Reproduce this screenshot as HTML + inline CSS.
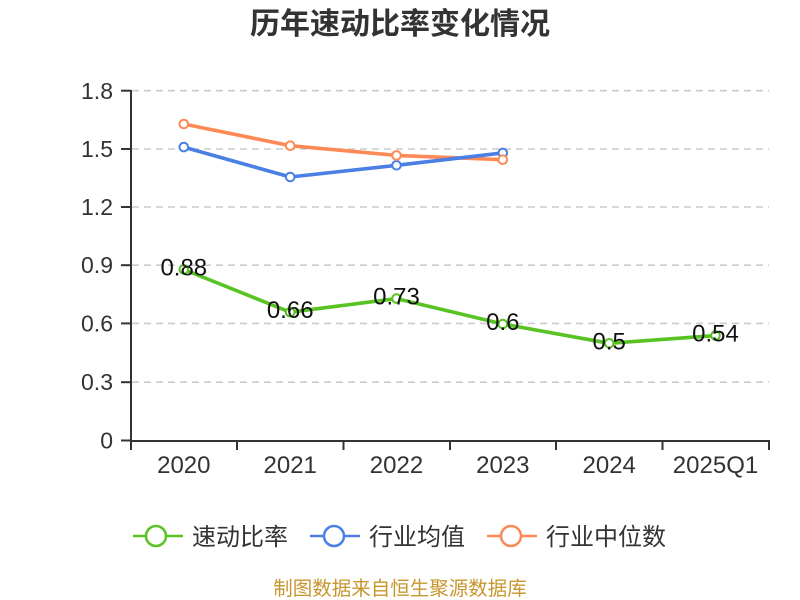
<!DOCTYPE html>
<html>
<head>
<meta charset="utf-8">
<style>
  html, body { margin:0; padding:0; background:#ffffff; }
  body { width:800px; height:600px; overflow:hidden; }
  svg { display:block; }
  .t { font-family: "Liberation Sans", "Noto Sans CJK SC", sans-serif; }
</style>
</head>
<body>
<svg width="800" height="600" viewBox="0 0 800 600" xmlns="http://www.w3.org/2000/svg">
  <rect width="800" height="600" fill="#ffffff"/>

  <!-- Title -->
  <text class="t" x="400" y="34" text-anchor="middle" font-size="30" font-weight="bold" fill="#333333">历年速动比率变化情况</text>

  <!-- Grid lines -->
  <g stroke="#cccccc" stroke-width="1.6" stroke-dasharray="7,5">
    <line x1="132" y1="90.7" x2="769" y2="90.7"/>
    <line x1="132" y1="149" x2="769" y2="149"/>
    <line x1="132" y1="207" x2="769" y2="207"/>
    <line x1="132" y1="265.2" x2="769" y2="265.2"/>
    <line x1="132" y1="323.4" x2="769" y2="323.4"/>
    <line x1="132" y1="382.2" x2="769" y2="382.2"/>
  </g>

  <!-- Y axis -->
  <g stroke="#333333" stroke-width="2">
    <line x1="131" y1="90" x2="131" y2="441"/>
    <line x1="121" y1="90.7" x2="131" y2="90.7"/>
    <line x1="121" y1="149" x2="131" y2="149"/>
    <line x1="121" y1="207" x2="131" y2="207"/>
    <line x1="121" y1="265.2" x2="131" y2="265.2"/>
    <line x1="121" y1="323.4" x2="131" y2="323.4"/>
    <line x1="121" y1="382.2" x2="131" y2="382.2"/>
    <line x1="121" y1="440.5" x2="131" y2="440.5"/>
  </g>
  <g class="t" font-size="23" fill="#333333" text-anchor="end">
    <text x="113" y="99">1.8</text>
    <text x="113" y="157">1.5</text>
    <text x="113" y="215">1.2</text>
    <text x="113" y="273">0.9</text>
    <text x="113" y="331.5">0.6</text>
    <text x="113" y="390">0.3</text>
    <text x="113" y="448.5">0</text>
  </g>

  <!-- X axis -->
  <g stroke="#333333" stroke-width="2">
    <line x1="130" y1="441" x2="770" y2="441"/>
    <line x1="131" y1="441" x2="131" y2="450"/>
    <line x1="237" y1="441" x2="237" y2="450"/>
    <line x1="343.5" y1="441" x2="343.5" y2="450"/>
    <line x1="450" y1="441" x2="450" y2="450"/>
    <line x1="556" y1="441" x2="556" y2="450"/>
    <line x1="662.5" y1="441" x2="662.5" y2="450"/>
    <line x1="769" y1="441" x2="769" y2="450"/>
  </g>
  <g class="t" font-size="24" fill="#333333" text-anchor="middle">
    <text x="183.8" y="473">2020</text>
    <text x="290.2" y="473">2021</text>
    <text x="396.5" y="473">2022</text>
    <text x="502.8" y="473">2023</text>
    <text x="609.2" y="473">2024</text>
    <text x="715.5" y="473">2025Q1</text>
  </g>

  <!-- Orange series: 行业中位数 -->
  <polyline fill="none" stroke="#fd8a56" stroke-width="3.6" stroke-linejoin="round"
    points="183.8,124 290.2,145.7 396.5,155.4 502.8,159.7"/>
  <!-- Blue series: 行业均值 -->
  <polyline fill="none" stroke="#4a7fe3" stroke-width="3.6" stroke-linejoin="round"
    points="183.8,147.1 290.2,177 396.5,165.3 502.8,152.9"/>
  <g fill="#ffffff" stroke="#4a7fe3" stroke-width="2">
    <circle cx="183.8" cy="147.1" r="4.3"/>
    <circle cx="290.2" cy="177" r="4.3"/>
    <circle cx="396.5" cy="165.3" r="4.3"/>
    <circle cx="502.8" cy="152.9" r="4.3"/>
  </g>
  <g fill="#ffffff" stroke="#fd8a56" stroke-width="2">
    <circle cx="183.8" cy="124" r="4.3"/>
    <circle cx="290.2" cy="145.7" r="4.3"/>
    <circle cx="396.5" cy="155.4" r="4.3"/>
    <circle cx="502.8" cy="159.7" r="4.3"/>
  </g>

  <!-- Green series: 速动比率 -->
  <polyline fill="none" stroke="#58c322" stroke-width="3.6" stroke-linejoin="round"
    points="183.8,269.5 290.2,312.2 396.5,298.6 502.8,324 609.2,343.3 715.5,335.6"/>
  <g fill="#ffffff" stroke="#58c322" stroke-width="2">
    <circle cx="183.8" cy="269.5" r="4.3"/>
    <circle cx="290.2" cy="312.2" r="4.3"/>
    <circle cx="396.5" cy="298.6" r="4.3"/>
    <circle cx="502.8" cy="324" r="4.3"/>
    <circle cx="609.2" cy="343.3" r="4.3"/>
    <circle cx="715.5" cy="335.6" r="4.3"/>
  </g>
  <g class="t" font-size="24" fill="#111111" text-anchor="middle">
    <text x="183.8" y="275.5">0.88</text>
    <text x="290.2" y="318.2">0.66</text>
    <text x="396.5" y="304.6">0.73</text>
    <text x="502.8" y="330">0.6</text>
    <text x="609.2" y="349.3">0.5</text>
    <text x="715.5" y="341.6">0.54</text>
  </g>

  <!-- Legend -->
  <g stroke-width="2.5" fill="#ffffff">
    <line x1="133" y1="536" x2="183" y2="536" stroke="#58c322"/>
    <circle cx="156" cy="536" r="10" stroke="#58c322"/>
    <line x1="310" y1="536" x2="360" y2="536" stroke="#4a7fe3"/>
    <circle cx="334" cy="536" r="10" stroke="#4a7fe3"/>
    <line x1="487" y1="536" x2="537" y2="536" stroke="#fd8a56"/>
    <circle cx="511" cy="536" r="10" stroke="#fd8a56"/>
  </g>
  <g class="t" font-size="24" fill="#333333">
    <text x="192" y="545">速动比率</text>
    <text x="369" y="545">行业均值</text>
    <text x="546" y="545">行业中位数</text>
  </g>

  <!-- Footer -->
  <text class="t" x="400" y="595" text-anchor="middle" font-size="19.5" fill="#c8962e">制图数据来自恒生聚源数据库</text>
</svg>
</body>
</html>
